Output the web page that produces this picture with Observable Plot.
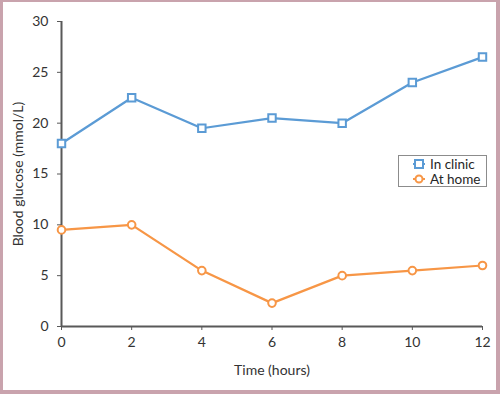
<!DOCTYPE html>
<html>
<head>
<meta charset="utf-8">
<script src="https://cdn.jsdelivr.net/npm/d3@7"></script>
<script src="https://cdn.jsdelivr.net/npm/@observablehq/plot@0.6"></script>
<style>
  html, body { margin: 0; padding: 0; background: #fff; }
  #wrap { position: relative; width: 500px; height: 394px; overflow: hidden; }
  #frame { position: absolute; left: 0; top: 0; width: 500px; height: 394px; box-sizing: border-box;
           border-style: solid; border-color: #c9a3ad; border-width: 2px 4px 4px 3px; pointer-events: none; }
  #legend { position: absolute; left: 398px; top: 155px; width: 89px; height: 32px; box-sizing: border-box;
            border: 1px solid #8c8c8c; background: #fff; font-family: Lato, "Open Sans", sans-serif; font-size: 13.5px; color: #262626; }
  .item { position: absolute; left: 0; height: 14px; line-height: 14px; }
  .item svg { position: absolute; left: 14px; top: 1px; }
  .item span { position: absolute; left: 31px; white-space: nowrap; }
</style>
</head>
<body>
<div id="wrap">
  <div id="chart"></div>
  <div id="legend"></div>
  <div id="frame"></div>
</div>
<script>
const hours = [0, 2, 4, 6, 8, 10, 12];
const inClinic = [18, 22.5, 19.5, 20.5, 20, 24, 26.5];
const atHome = [9.5, 10, 5.5, 2.3, 5, 5.5, 6];
const seriesNames = ["In clinic", "At home"];
const seriesColors = ["#5b9bd5", "#f79646"];
const yTicks = [0, 5, 10, 15, 20, 25, 30];
const xTicks = [0, 2, 4, 6, 8, 10, 12];

const clinic = hours.map((h, i) => ({h, v: inClinic[i]}));
const home = hours.map((h, i) => ({h, v: atHome[i]}));

const chart = Plot.plot({
  width: 500,
  height: 394,
  marginLeft: 61,
  marginRight: 18,
  marginTop: 21,
  marginBottom: 68,
  style: {fontFamily: "Lato, 'Open Sans', sans-serif", fontSize: "14px", color: "#333333", background: "transparent"},
  x: {domain: [0, 12], ticks: xTicks, tickSize: 4, tickPadding: 7, label: "Time (hours)", labelArrow: "none", labelAnchor: "center", labelOffset: 48},
  y: {domain: [0, 30], ticks: yTicks, tickSize: 4, tickPadding: 9, label: "Blood glucose (mmol/L)", labelArrow: "none", labelAnchor: "center", labelOffset: 48},
  marks: [
    Plot.ruleX([0], {stroke: "#595959", strokeWidth: 2}),
    Plot.ruleY([0], {stroke: "#595959", strokeWidth: 2}),
    Plot.line(clinic, {x: "h", y: "v", stroke: seriesColors[0], strokeWidth: 2.25}),
    Plot.line(home, {x: "h", y: "v", stroke: seriesColors[1], strokeWidth: 2.25}),
    Plot.dot(clinic, {x: "h", y: "v", symbol: "square", r: 4.2, stroke: seriesColors[0], fill: "white", strokeWidth: 2}),
    Plot.dot(home, {x: "h", y: "v", symbol: "circle", r: 3.8, stroke: seriesColors[1], fill: "white", strokeWidth: 2})
  ]
});
chart.querySelectorAll("g[aria-label$='axis'] path, g[aria-label$='tick'] path").forEach(p => p.setAttribute("stroke", "#595959"));
document.getElementById("chart").appendChild(chart);

const legend = document.getElementById("legend");
const syms = [
  '<svg width="12" height="12"><line x1="0" y1="6" x2="12" y2="6" stroke="' + seriesColors[0] + '" stroke-width="2"/><rect x="2" y="2" width="8" height="8" fill="white" stroke="' + seriesColors[0] + '" stroke-width="2"/></svg>',
  '<svg width="12" height="12"><line x1="0" y1="6" x2="12" y2="6" stroke="' + seriesColors[1] + '" stroke-width="2"/><circle cx="6" cy="6" r="3.5" fill="white" stroke="' + seriesColors[1] + '" stroke-width="2"/></svg>'
];
seriesNames.forEach((n, i) => {
  const d = document.createElement("div");
  d.className = "item";
  d.style.top = (1 + i * 15) + "px";
  d.innerHTML = syms[i] + "<span>" + n + "</span>";
  legend.appendChild(d);
});
</script>
</body>
</html>
